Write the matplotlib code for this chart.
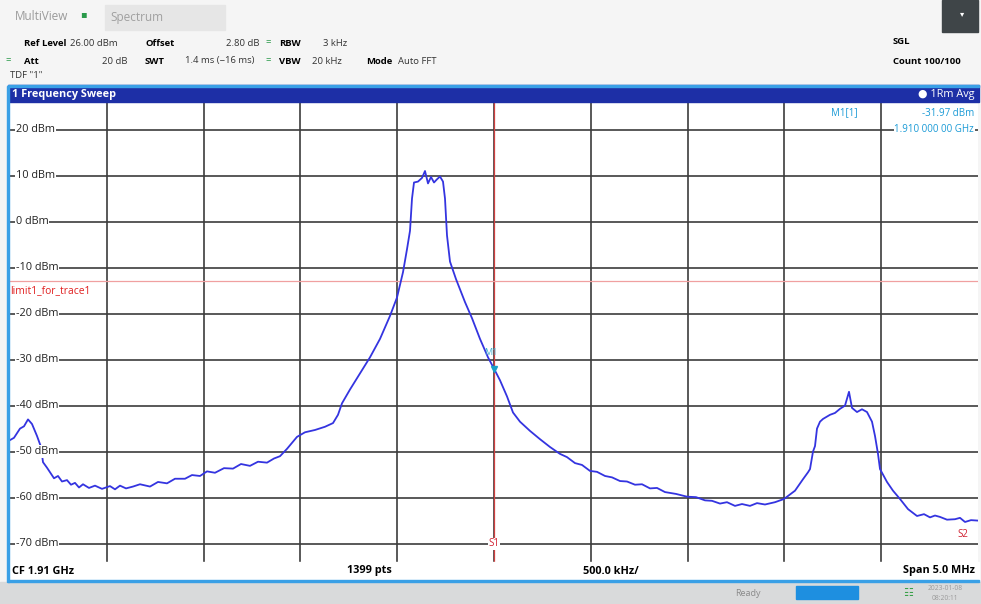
import matplotlib.pyplot as plt
from matplotlib.patches import Rectangle

plt.rcParams['font.family'] = ['Open Sans', 'DejaVu Sans']

W, H = 981, 604

# trace: pixel column -> level (dBm)
trace_px = [10, 14, 20, 24, 28, 32, 37, 41, 43, 47, 50, 54, 58, 62, 67, 71, 75, 79, 83,
            89, 95, 102, 110, 115, 120, 126, 133, 140, 150, 158, 167, 175, 185, 192, 200,
            207, 215, 224, 233, 241, 250, 258, 267, 274, 280, 287, 297, 305, 315, 325,
            333, 338, 342, 350, 360, 370, 380, 390, 397, 403, 407, 410, 412, 414, 418,
            422, 425, 428, 431, 434, 437, 440, 443, 445, 447, 450, 456, 465, 472, 480,
            488, 494, 500, 507, 513, 520, 530, 540, 550, 560, 567, 575, 582, 590, 597,
            605, 612, 620, 627, 635, 642, 650, 657, 665, 676, 687, 696, 705, 712, 720,
            727, 735, 742, 750, 757, 765, 775, 784, 795, 803, 808, 810, 813, 815, 817,
            820, 823, 830, 835, 840, 845, 849, 852, 857, 862, 867, 872, 875, 878, 880,
            887, 893, 900, 908, 917, 924, 930, 935, 940, 947, 955, 960, 965, 971, 978]
trace_dbm = [-47.5, -47, -45, -44.5, -43, -44, -46.6, -49, -52.3, -53.5, -54.5, -55.8,
             -55.3, -56.5, -56.2, -57.2, -56.8, -57.8, -57.1, -57.9, -57.4, -58.1, -57.5,
             -58.2, -57.4, -58.0, -57.6, -57.1, -57.6, -56.6, -56.9, -55.9, -55.9, -55.1,
             -55.3, -54.3, -54.6, -53.6, -53.7, -52.7, -53.1, -52.2, -52.4, -51.5, -51.0,
             -49.4, -46.8, -45.8, -45.3, -44.6, -43.8, -42, -39.5, -36.5, -33, -29.5,
             -25.5, -20.5, -16.5, -11, -6, -2, 5, 8.5, 8.7, 9.5, 11, 8.3, 9.7, 8.5, 9.2,
             9.8, 8.7, 5, -3, -8.7, -12.5, -17.5, -21, -25.5, -29.5, -31.97, -34.5, -38,
             -41.5, -43.5, -45.5, -47.3, -49, -50.5, -51.2, -52.5, -52.9, -54.2, -54.4,
             -55.3, -55.6, -56.4, -56.5, -57.2, -57.1, -58, -57.9, -58.8, -59.2, -59.8,
             -59.9, -60.6, -60.7, -61.3, -61.0, -61.8, -61.4, -61.8, -61.2, -61.5, -61,
             -60.3, -58.5, -56, -54.5, -53.8, -50, -48.8, -45, -43.5, -42.9, -42, -41.6,
             -40.7, -40, -37, -40.5, -41.4, -40.8, -41.4, -43.5, -46.6, -50.5, -53.8,
             -56.6, -58.5, -60.3, -62.5, -64, -63.6, -64.3, -63.9, -64.2, -64.8, -64.7,
             -64.4, -65.3, -64.9, -65]

span_mhz = 5.0
ref_level = 26.0
y_bottom = -74.0
level_ticks = [20, 10, 0, -10, -20, -30, -40, -50, -60, -70]
limit_level = -13.0
marker_freq = 0.0
marker_level = -31.97

# plot area in pixels
x0, x1, y0, y1 = 10, 978, 102, 562
freq = [(p - (x0 + x1) / 2) / (x1 - x0) * span_mhz for p in trace_px]


def px(x, y):
    return x / W, 1 - y / H


def ftext(x, y, s, **kw):
    kw.setdefault('fontsize', 6.8)
    kw.setdefault('va', 'center')
    fig.text(*px(x, y), s, **kw)


def box(x, y, w, h, color, z=1):
    # x, y = top-left corner in pixels
    fig.patches.append(Rectangle(px(x, y + h), w / W, h / H, transform=fig.transFigure,
                                 color=color, zorder=z))


fig = plt.figure(figsize=(W / 100, H / 100), dpi=100)
fig.patch.set_facecolor('#f5f5f5')

# header / footer bars
box(105, 5, 120, 25, '#e6e6e6', 0)
box(942, 0, 36, 32, '#3f4548', 0)
box(8, 85, 971, 17, '#1d2fa6')
box(8, 85, 971, 2, '#3aa0e6', 2)
box(8, 562, 971, 19, 'white')
box(8, 580, 971, 2, '#3aa0e6', 2)
box(0, 582, W, 22, '#d9dadb')
box(796, 586, 62, 13, '#1e8fe0', 2)
box(7, 86, 2, 496, '#3aa0e6', 2)

ftext(15, 17, 'MultiView', color='#9a9a9a', fontsize=8.5)
ftext(110, 17, 'Spectrum', color='#a0a0a0', fontsize=8.5)
ftext(80, 15, '\u25aa', color='#2a9a4a', fontsize=7)
ftext(960, 15, '\u25be', color='white', fontsize=6)

ftext(24, 43, 'Ref Level', fontweight='bold')
ftext(70, 43, '26.00 dBm', color='#333333')
ftext(145, 43, 'Offset', fontweight='bold')
ftext(259, 43, '2.80 dB', color='#333333', ha='right')
ftext(265, 43, '=', color='#2a9a4a')
ftext(279, 43, 'RBW', fontweight='bold')
ftext(323, 43, '3 kHz', color='#333333')
ftext(5, 61, '=', color='#2a9a4a')
ftext(24, 61, 'Att', fontweight='bold')
ftext(127, 61, '20 dB', color='#333333', ha='right')
ftext(145, 61, 'SWT', fontweight='bold')
ftext(185, 61, '1.4 ms (~16 ms)', color='#333333')
ftext(265, 61, '=', color='#2a9a4a')
ftext(279, 61, 'VBW', fontweight='bold')
ftext(312, 61, '20 kHz', color='#333333')
ftext(366, 61, 'Mode', fontweight='bold')
ftext(398, 61, 'Auto FFT', color='#333333')
ftext(10, 76, 'TDF "1"', color='#333333')
ftext(893, 42, 'SGL', fontweight='bold')
ftext(893, 61, 'Count 100/100', fontweight='bold')

ftext(12, 94, '1 Frequency Sweep', color='white', fontweight='bold', fontsize=7.8)
ftext(975, 94, '\u25cf 1Rm Avg', color='white', ha='right', fontsize=7.8)

ftext(12, 571, 'CF 1.91 GHz', fontweight='bold', fontsize=7.8)
ftext(347, 571, '1399 pts', fontweight='bold', fontsize=7.8)
ftext(583, 571, '500.0 kHz/', fontweight='bold', fontsize=7.8)
ftext(975, 571, 'Span 5.0 MHz', fontweight='bold', ha='right', fontsize=7.8)

ftext(735, 593, 'Ready', color='#8a8a8a', fontsize=6.5)
ftext(903, 593, '\u2637', color='#3aa04a', fontsize=8)
ftext(945, 589, '2023-01-08', color='#9a9a9a', fontsize=4.8, ha='center')
ftext(945, 598, '08:20:11', color='#9a9a9a', fontsize=4.8, ha='center')

ax = fig.add_axes([x0 / W, 1 - y1 / H, (x1 - x0) / W, (y1 - y0) / H])
ax.set_xlim(-span_mhz / 2, span_mhz / 2)
ax.set_ylim(y_bottom, ref_level)
ax.set_xticks([-span_mhz / 2 + 0.5 * k for k in range(1, 10)])
ax.set_yticks(level_ticks)
ax.tick_params(length=0, labelbottom=False, labelleft=False)
ax.grid(True, color='#3c3c3c', lw=1.2)
ax.set_axisbelow(True)
for s in ax.spines.values():
    s.set_visible(False)

ax.axvline(marker_freq, color='#d04040', lw=0.9, zorder=3)
ax.axhline(limit_level, color='#f0a0a0', lw=0.9, zorder=3)
ax.plot(freq, trace_dbm, color='#3434e0', lw=1.3, zorder=4)
ax.plot([marker_freq], [marker_level], marker='v', color='#1aa0c8', ms=4, zorder=5)
ax.text(marker_freq - 0.05, marker_level + 3, 'M1', color='#40b0d0', fontsize=6.5,
        zorder=5)

for lv in level_ticks:
    ax.text(-2.47, lv, f'{lv} dBm', fontsize=7.8, va='center', ha='left', color='#222222',
            bbox=dict(fc='white', ec='none', pad=0.6), zorder=6)

ax.text(-2.5, limit_level - 2, 'limit1_for_trace1', color='#e02020', fontsize=7.4,
        va='center', zorder=6)
ax.text(marker_freq, -70, 'S1', color='#d02030', fontsize=7, va='center', ha='center',
        bbox=dict(fc='white', ec='none', pad=0.4), zorder=6)
ax.text(2.45, -68, 'S2', color='#d02030', fontsize=7, va='center', ha='right', zorder=6)

# marker readout
ax.text(1.88, 23.6, 'M1[1]', color='#1a9ad6', fontsize=7, va='center', ha='right', zorder=6)
ax.text(2.48, 23.6, '-31.97 dBm', color='#1a9ad6', fontsize=7, va='center', ha='right',
        zorder=6)
ax.text(2.48, 20, '1.910 000 00 GHz', color='#1a9ad6', fontsize=7, va='center', ha='right',
        bbox=dict(fc='white', ec='none', pad=0.4), zorder=6)

fig.savefig('out.png', dpi=100, facecolor=fig.get_facecolor())
